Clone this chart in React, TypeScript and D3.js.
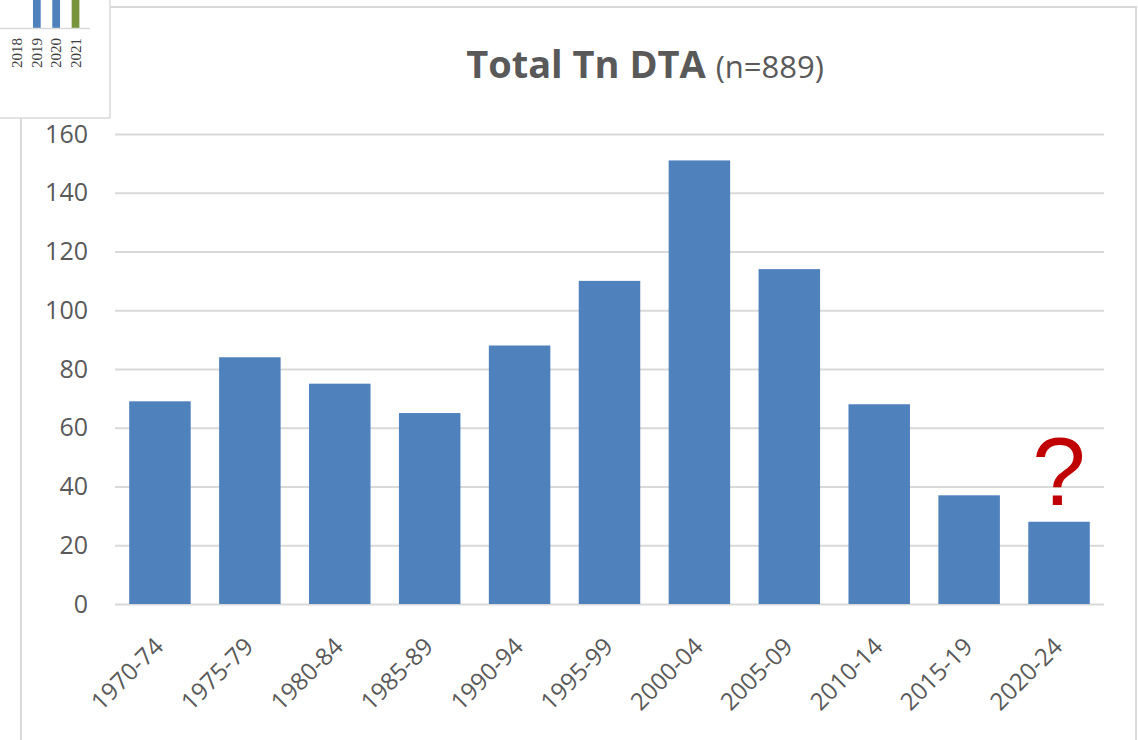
import { useRef, useEffect } from 'react';
import * as d3 from 'd3';

const W = 1138;
const H = 740;
const MARGIN = { top: 134, right: 34, bottom: 136, left: 115 };

const PERIODS = ['1970-74', '1975-79', '1980-84', '1985-89', '1990-94', '1995-99', '2000-04', '2005-09', '2010-14', '2015-19', '2020-24'];
const COUNTS = [69, 84, 75, 65, 88, 110, 151, 114, 68, 37, 28];
const Y_TICKS = [0, 20, 40, 60, 80, 100, 120, 140, 160];
const FLAGGED = '2020-24';

// the little chart pasted in the top-left corner, cropped so its bars run off the top
const INSET_YEARS = ['2018', '2019', '2020', '2021'];
const INSET_VALUES = [0, 14, 14, 14];
const INSET_COLORS = ['#4F81BD', '#4F81BD', '#4F81BD', '#77933C'];

const BAR = '#4F81BD';
const GRID = '#D9D9D9';
const TEXT = '#595959';
const FONT = "'Open Sans', sans-serif";

export default function App() {
  const svgRef = useRef<SVGSVGElement | null>(null);

  useEffect(() => {
    const svg = d3.select(svgRef.current);
    svg.selectAll('*').remove();

    const innerW = W - MARGIN.left - MARGIN.right;
    const innerH = H - MARGIN.top - MARGIN.bottom;

    // frame of the main chart
    const frame = svg.append('g').attr('stroke', GRID).attr('stroke-width', 2).attr('fill', 'none');
    frame.append('line').attr('x1', 110).attr('x2', 1137).attr('y1', 7).attr('y2', 7);
    frame.append('line').attr('x1', 1136).attr('x2', 1136).attr('y1', 7).attr('y2', H);
    frame.append('line').attr('x1', 21).attr('x2', 21).attr('y1', 118).attr('y2', H);

    const x = d3.scaleBand<string>().domain(PERIODS).range([0, innerW]).paddingInner(0.316).paddingOuter(0.158);
    const y = d3.scaleLinear().domain([0, 160]).range([innerH, 0]);

    const g = svg.append('g').attr('transform', `translate(${MARGIN.left},${MARGIN.top})`);

    const gridG = g.append('g')
      .call(d3.axisLeft(y).tickValues(Y_TICKS).tickSize(-innerW).tickFormat(() => ''));
    gridG.selectAll('line').attr('stroke', GRID).attr('stroke-width', 2);
    gridG.select('.domain').remove();

    g.selectAll('.bar')
      .data(PERIODS)
      .join('rect')
      .attr('x', (d) => x(d)!)
      .attr('width', x.bandwidth())
      .attr('y', (_, i) => y(COUNTS[i]))
      .attr('height', (_, i) => innerH - y(COUNTS[i]))
      .attr('fill', BAR);

    const yAxisG = g.append('g')
      .call(d3.axisLeft(y).tickValues(Y_TICKS).tickSize(0).tickPadding(27));
    yAxisG.select('.domain').remove();
    yAxisG.selectAll('text')
      .attr('fill', TEXT).attr('font-family', FONT).attr('font-size', '25px');

    const xAxisG = g.append('g').attr('transform', `translate(0,${innerH})`);
    xAxisG.selectAll('text')
      .data(PERIODS)
      .join('text')
      .attr('transform', (d) => `translate(${x(d)! + x.bandwidth() / 2 + 5},44) rotate(-45)`)
      .attr('text-anchor', 'end')
      .attr('fill', TEXT)
      .attr('font-family', FONT)
      .attr('font-size', '24px')
      .text((d) => d);

    // question mark over the unfinished period
    const fi = PERIODS.indexOf(FLAGGED);
    g.append('text')
      .attr('x', x(FLAGGED)! + x.bandwidth() / 2)
      .attr('y', y(COUNTS[fi]) - 17)
      .attr('text-anchor', 'middle')
      .attr('fill', '#C00000')
      .attr('font-family', "'Liberation Sans', sans-serif")
      .attr('font-size', '96px')
      .text('?');

    // title
    const title = svg.append('text')
      .attr('x', 645)
      .attr('y', 78)
      .attr('text-anchor', 'middle')
      .attr('fill', TEXT)
      .attr('font-family', FONT);
    title.append('tspan').attr('font-size', '38px').attr('font-weight', 700).text('Total Tn DTA ');
    title.append('tspan').attr('font-size', '31px').attr('font-weight', 400).text('(n=889)');

    // inset crop
    const inset = svg.append('g');
    inset.append('rect').attr('x', 0).attr('y', 0).attr('width', 110).attr('height', 118).attr('fill', '#fff');
    const ix = d3.scaleBand<string>().domain(INSET_YEARS).range([2, 91]).padding(0.6);
    const iy = d3.scaleLinear().domain([0, 10]).range([28, 0]);
    inset.selectAll('.ibar')
      .data(INSET_YEARS)
      .join('rect')
      .attr('x', (d) => ix(d)!)
      .attr('width', ix.bandwidth())
      .attr('y', (_, i) => iy(INSET_VALUES[i]))
      .attr('height', (_, i) => iy(0) - iy(INSET_VALUES[i]))
      .attr('fill', (_, i) => INSET_COLORS[i]);
    inset.append('line').attr('x1', 0).attr('x2', 90).attr('y1', iy(0) + 0.5).attr('y2', iy(0) + 0.5)
      .attr('stroke', GRID).attr('stroke-width', 1.5);
    inset.selectAll('.ilabel')
      .data(INSET_YEARS)
      .join('text')
      .attr('transform', (d) => `translate(${ix(d)! + ix.bandwidth() / 2 + 5},38) rotate(-90)`)
      .attr('text-anchor', 'end')
      .attr('fill', '#404040')
      .attr('font-family', "'Liberation Serif', serif")
      .attr('font-size', '15px')
      .text((d) => d);
    inset.append('polyline').attr('points', '110,0 110,118 0,118')
      .attr('fill', 'none').attr('stroke', GRID).attr('stroke-width', 1.5);
  }, []);

  return (
    <svg
      ref={svgRef}
      width={W}
      height={H}
      style={{ position: 'absolute', left: 0, top: 0, background: '#fff', display: 'block' }}
    />
  );
}
